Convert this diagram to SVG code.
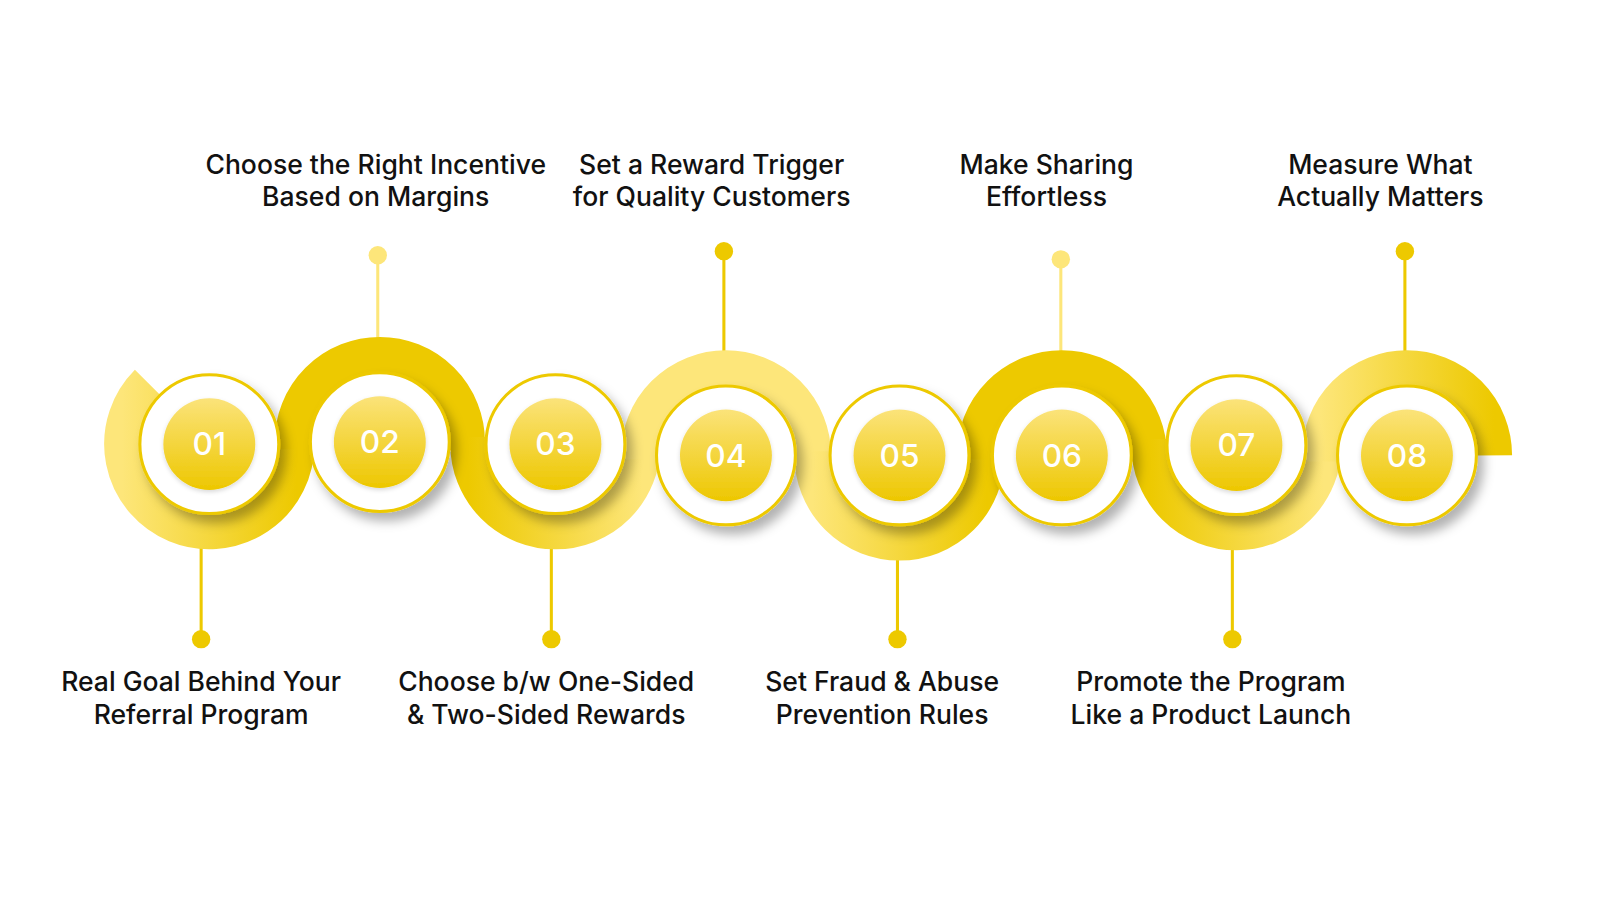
<svg xmlns="http://www.w3.org/2000/svg" width="1600" height="900" viewBox="0 0 1600 900">
<defs>
<linearGradient id="gLD" x1="0" y1="0" x2="1" y2="0"><stop offset="0" stop-color="#FDE67A"/><stop offset="1" stop-color="#EDC900"/></linearGradient>
<linearGradient id="gDL" x1="0" y1="0" x2="1" y2="0"><stop offset="0" stop-color="#EDC900"/><stop offset="1" stop-color="#FDE67A"/></linearGradient>
<linearGradient id="gIn" x1="0" y1="0" x2="0" y2="1"><stop offset="0" stop-color="#FBE37A"/><stop offset="1" stop-color="#EDC700"/></linearGradient>
<filter id="sh" x="-30%" y="-30%" width="170%" height="170%"><feDropShadow dx="6" dy="8" stdDeviation="5" flood-color="#000" flood-opacity="0.3"/></filter>
<filter id="ish" x="-30%" y="-30%" width="160%" height="160%"><feDropShadow dx="0" dy="2" stdDeviation="2" flood-color="#000" flood-opacity="0.15"/></filter>
</defs>
<style>
.arc{fill:none;stroke-width:35}
.ring{fill:#fff;stroke:#EDC900;stroke-width:3;filter:url(#sh)}
.inner{fill:url(#gIn);filter:url(#ish)}
.num{font-family:Inter,"Liberation Sans",sans-serif;font-size:31px;font-weight:500;fill:#fff;text-anchor:middle}
.lbl{font-family:Inter,"Liberation Sans",sans-serif;font-size:26px;font-weight:500;fill:#111;text-anchor:middle}
.ln{stroke-width:3}
</style>
<rect width="1600" height="900" fill="#fff"/>
<g transform="scale(1.021)">
<g id="connectors">
<line class="ln" x1="197" y1="530" x2="197" y2="626" stroke="#EDC900"/><circle cx="197" cy="626" r="9" fill="#EDC900"/>
<line class="ln" x1="370" y1="250" x2="370" y2="340" stroke="#FDE67A"/><circle cx="370" cy="250" r="9" fill="#FDE67A"/>
<line class="ln" x1="540" y1="530" x2="540" y2="626" stroke="#EDC900"/><circle cx="540" cy="626" r="9" fill="#EDC900"/>
<line class="ln" x1="709" y1="246" x2="709" y2="350" stroke="#EDC900"/><circle cx="709" cy="246" r="9" fill="#EDC900"/>
<line class="ln" x1="879" y1="540" x2="879" y2="626" stroke="#EDC900"/><circle cx="879" cy="626" r="9" fill="#EDC900"/>
<line class="ln" x1="1039" y1="254" x2="1039" y2="350" stroke="#FDE67A"/><circle cx="1039" cy="254" r="9" fill="#FDE67A"/>
<line class="ln" x1="1207" y1="530" x2="1207" y2="626" stroke="#EDC900"/><circle cx="1207" cy="626" r="9" fill="#EDC900"/>
<line class="ln" x1="1376" y1="246" x2="1376" y2="350" stroke="#EDC900"/><circle cx="1376" cy="246" r="9" fill="#EDC900"/>
</g>
<g id="arcs">
<path class="arc" stroke="url(#gLD)" d="M144.5 374.5 A85.5 85.5 0 1 0 290.5 435 L290.5 428"/>
<path class="arc" stroke="#EDC900" d="M286.5 440 L286.5 433 A85.5 85.5 0 0 1 457.5 433 L457.5 441"/>
<path class="arc" stroke="url(#gDL)" d="M458.5 428 L458.5 435 A85.5 85.5 0 0 0 629.5 435 L629.5 439"/>
<path class="arc" stroke="#FDE67A" d="M625.5 450 L625.5 446 A85.5 85.5 0 0 1 796.5 446 L796.5 450"/>
<path class="arc" stroke="url(#gLD)" d="M795.5 442 L795.5 446 A85.5 85.5 0 0 0 966.5 446 L966.5 442"/>
<path class="arc" stroke="#EDC900" d="M954.5 450 L954.5 446 A85.5 85.5 0 0 1 1125.5 446 L1125.5 452"/>
<path class="arc" stroke="url(#gDL)" d="M1125.5 430 L1125.5 436 A85.5 85.5 0 0 0 1296.5 436 L1296.5 430"/>
<path class="arc" stroke="url(#gLD)" d="M1292.5 452 L1292.5 446 A85.5 85.5 0 0 1 1463.5 446"/>
</g>
<g id="n01"><circle class="ring" cx="205" cy="435" r="68"/><circle class="inner" cx="205" cy="435" r="45"/><text class="num" x="205" y="446">01</text>
<text class="lbl" x="197" y="677">Real Goal Behind Your</text><text class="lbl" x="197" y="709">Referral Program</text></g>
<g id="n02"><circle class="ring" cx="372" cy="433" r="68"/><circle class="inner" cx="372" cy="433" r="45"/><text class="num" x="372" y="444">02</text>
<text class="lbl" x="368" y="170">Choose the Right Incentive</text><text class="lbl" x="368" y="202">Based on Margins</text></g>
<g id="n03"><circle class="ring" cx="544" cy="435" r="68"/><circle class="inner" cx="544" cy="435" r="45"/><text class="num" x="544" y="446">03</text>
<text class="lbl" x="535" y="677">Choose b/w One-Sided</text><text class="lbl" x="535" y="709">&amp; Two-Sided Rewards</text></g>
<g id="n04"><circle class="ring" cx="711" cy="446" r="68"/><circle class="inner" cx="711" cy="446" r="45"/><text class="num" x="711" y="457">04</text>
<text class="lbl" x="697" y="170">Set a Reward Trigger</text><text class="lbl" x="697" y="202">for Quality Customers</text></g>
<g id="n05"><circle class="ring" cx="881" cy="446" r="68"/><circle class="inner" cx="881" cy="446" r="45"/><text class="num" x="881" y="457">05</text>
<text class="lbl" x="864" y="677">Set Fraud &amp; Abuse</text><text class="lbl" x="864" y="709">Prevention Rules</text></g>
<g id="n06"><circle class="ring" cx="1040" cy="446" r="68"/><circle class="inner" cx="1040" cy="446" r="45"/><text class="num" x="1040" y="457">06</text>
<text class="lbl" x="1025" y="170">Make Sharing</text><text class="lbl" x="1025" y="202">Effortless</text></g>
<g id="n07"><circle class="ring" cx="1211" cy="436" r="68"/><circle class="inner" cx="1211" cy="436" r="45"/><text class="num" x="1211" y="447">07</text>
<text class="lbl" x="1186" y="677">Promote the Program</text><text class="lbl" x="1186" y="709">Like a Product Launch</text></g>
<g id="n08"><circle class="ring" cx="1378" cy="446" r="68"/><circle class="inner" cx="1378" cy="446" r="45"/><text class="num" x="1378" y="457">08</text>
<text class="lbl" x="1352" y="170">Measure What</text><text class="lbl" x="1352" y="202">Actually Matters</text></g>
</g>
</svg>
